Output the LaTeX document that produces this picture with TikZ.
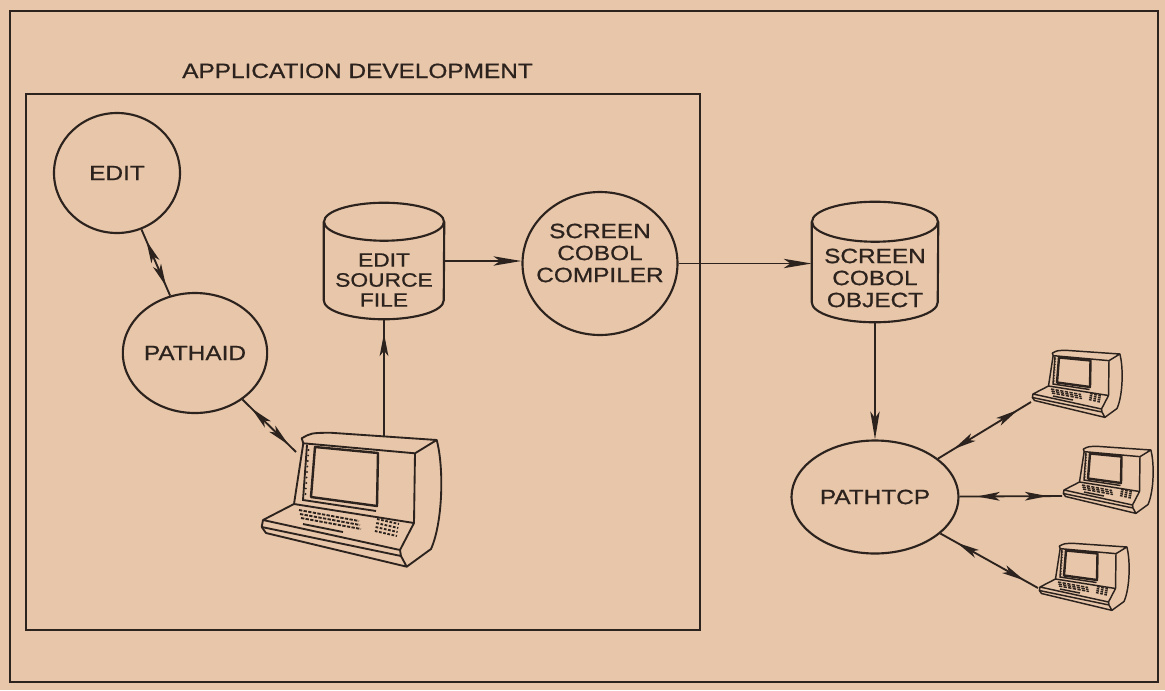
\documentclass[tikz,border=0pt]{standalone}
\usepackage{fontspec}
\newfontfamily\letterfont{Liberation Sans}[FakeStretch=1.18, FakeBold=0.8]
\usetikzlibrary{arrows.meta,shapes.geometric,decorations.markings,calc}
\definecolor{paper}{RGB}{232,198,169}
\definecolor{ink}{RGB}{44,35,30}

\tikzset{
  outline/.style={draw=ink, line width=1.6pt},
  frame/.style={draw=ink, line width=1.6pt},
  bubble/.style={ellipse, outline, inner sep=0pt},
  tag/.style={font=\letterfont\fontsize{15.5}{16.5}\selectfont, text=ink, align=center, inner sep=0pt},
  smalltag/.style={font=\letterfont\fontsize{14.5}{15}\selectfont, text=ink, align=center, inner sep=0pt},
  drum/.style={rectangle, inner sep=0pt, draw=none},
  link/.style={draw=ink, color=ink, line width=1.4pt},
  flow/.style={link, -{Stealth[length=21pt,width=7pt,inset=5pt]}},
  biarrow/.style={link, postaction={decorate}, decoration={markings,
     mark=at position 0.17 with {\arrowreversed{Stealth[length=17pt,width=6.5pt,inset=4pt]}},
     mark=at position 0.86 with {\arrow{Stealth[length=17pt,width=6.5pt,inset=4pt]}}}},
  upmark/.style={link, postaction={decorate}, decoration={markings,
     mark=at position 0.88 with {\arrow{Stealth[length=17pt,width=6.5pt,inset=4pt]}}}},
  terminal/.pic={
    % housing lid
    \draw[line join=round] (38.7,-83.7) .. controls (48,-89) .. (67,-89.3) -- (173.7,-82) -- (152,-68.7) -- (40.3,-78.7) -- cycle;
    % front face edges
    \draw (40.3,-78.7) -- (31,-18);
    \draw (152,-68.7) -- (151,1);
    % curved back of the housing
    \draw (173.7,-82) .. controls (181,-55) and (180,0) .. (168,27) -- (143.7,44.7);
    % keyboard deck
    \draw[line join=round] (0,-2) -- (31,-18) -- (151,1) -- (137,28) -- cycle;
    \draw[line join=round] (0,-2) -- (-1.3,5) -- (138,34) -- (137,28);
    \draw[line join=round] (-1.3,5) -- (3,11) -- (143.7,44.7) -- (138,34);
    % screen and bezel
    \draw[line width=1.8pt, line join=round] (52,-75) -- (115,-69) -- (114,-16) -- (48,-25) -- cycle;
    \draw (44,-77) -- (40,-22) -- (113,-11);
    \foreach \k in {0,...,8} \fill ($(45.5,-72)!\k/8!(42.5,-28)$) circle (0.8pt);
    % keys
    \foreach \r in {0,1,2}
      \draw[dash pattern=on 2.5pt off 1pt] ($(36,-12)+(\r*1,\r*4)$) -- ($(96,-1)+(\r*1,\r*4)$);
    \draw (40,2) -- (80,10);
    \foreach \r in {0,1,2,3}
      \draw[dash pattern=on 2pt off 1.2pt] ($(114,-3)+(\r*-0.7,\r*4)$) -- ($(136,2)+(\r*-0.7,\r*4)$);
  }
}

% outline of a storage drum drawn around a named node
\newcommand\drawdrum[3]{%
  \draw[outline] ($(#1.north)+(0,#3)$) ellipse [x radius=#2, y radius=#3];
  \draw[outline] ($(#1.north west)+(0,#3)$) -- ($(#1.south west)+(0,-#3)$)
     arc [start angle=180, end angle=0, x radius=#2, y radius=#3] -- ($(#1.north east)+(0,#3)$);
}

\begin{document}
\begin{tikzpicture}[x=0.75pt, y=-0.75pt]
  \useasboundingbox (0,0) rectangle (1165,690);
  \fill[paper] (0,0) rectangle (1165,690);

  % frames
  \draw[frame] (10,11) rectangle (1158,682);
  \draw[frame] (26,94) rectangle (700,630);
  \node[tag, anchor=base west] (title) at (182,78) {APPLICATION DEVELOPMENT};

  % processes
  \node[bubble, minimum width=94.5pt, minimum height=90pt, tag] (edit) at (117,173) {EDIT};
  \node[bubble, minimum width=96.75pt, minimum height=90pt, tag] (pathaid) at (195,353) {PATHAID};
  \node[bubble, minimum width=116.25pt, minimum height=107.25pt] (comp) at (600,263.5) {};
  \node[tag] (comptext) at (600,253) {SCREEN\\COBOL\\COMPILER};
  \node[bubble, minimum width=125.25pt, minimum height=84.75pt, tag] (ptcp) at (875,497) {PATHTCP};

  % files
  \node[drum, minimum width=90pt, minimum height=87pt] (esf) at (384,261) {};
  \drawdrum{esf}{60}{19}
  \node[smalltag] (esftext) at (384,280) {EDIT\\SOURCE\\FILE};
  \node[drum, minimum width=94.5pt, minimum height=90pt] (obj) at (875,262) {};
  \drawdrum{obj}{63}{20}
  \node[tag] (objtext) at (875,278) {SCREEN\\COBOL\\OBJECT};

  % terminals
  \pic[ink, line width=1.4pt] at (263,522) {terminal};
  \pic[ink, line width=1.1pt, scale=0.5] at (1033,395) {terminal};
  \pic[ink, line width=1.1pt, scale=0.5] at (1064,491) {terminal};
  \pic[ink, line width=1.1pt, scale=0.5] at (1040,588) {terminal};
  \coordinate (tport) at (296,452);
  \coordinate (ttop) at (384,437);
  \coordinate (t1port) at (1031,402);
  \coordinate (t2port) at (1062,496);
  \coordinate (t3port) at (1038,588);

  % connectors
  \draw[biarrow] (edit) -- (pathaid);
  \draw[biarrow] (pathaid) -- (tport);
  \draw[upmark] (ttop) -- (esf.south);
  \draw[flow] (esf.east) -- (esf.east -| comp.west);
  \draw[flow] (comp.east) -- (obj.west |- comp.east);
  \draw[flow] (obj.south) -- (ptcp.north);
  \draw[biarrow] (ptcp) -- (t1port);
  \draw[biarrow] (ptcp) -- (t2port);
  \draw[biarrow] (ptcp) -- (t3port);
\end{tikzpicture}
\end{document}
